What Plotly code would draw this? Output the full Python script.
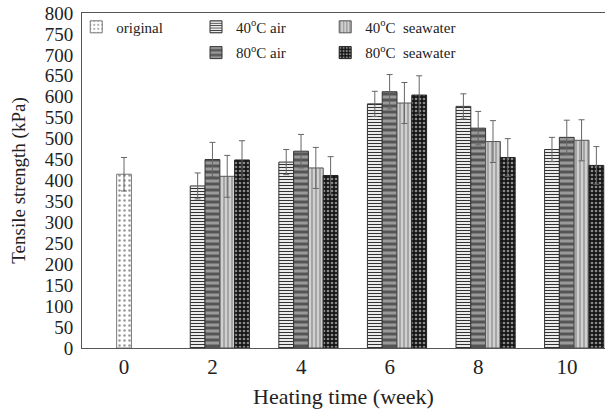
import plotly.graph_objects as go

weeks = ["0", "2", "4", "6", "8", "10"]
treated_weeks = ["2", "4", "6", "8", "10"]

original_val = [415]
original_err = [40]

air40 = [387, 444, 583, 577, 474]
air40_err = [31, 30, 30, 30, 29]
air80 = [450, 470, 612, 525, 503]
air80_err = [41, 40, 41, 40, 41]
sea40 = [410, 430, 585, 493, 496]
sea40_err = [50, 49, 49, 50, 49]
sea80 = [449, 412, 604, 455, 436]
sea80_err = [46, 45, 46, 45, 45]

FONT = "Liberation Serif"
W = 0.167
pos = {w: i for i, w in enumerate(weeks)}

fig = go.Figure()

def add(name, xs, y, err, offset, pattern, line_color, legend):
    fig.add_trace(go.Bar(
        name=name, x=[pos[w] for w in xs], y=y, offset=offset, width=W,
        marker=dict(pattern=pattern, line=dict(color=line_color, width=1)),
        error_y=dict(type="data", array=err, visible=True, color="#666666",
                     thickness=1, width=3),
        legend=legend, showlegend=True,
    ))

add("original", ["0"], original_val, original_err, -0.083,
    dict(shape=".", bgcolor="white", fgcolor="#999999", size=5, solidity=0.2, fillmode="replace"),
    "#777777", "legend")
add("40<sup>o</sup>C air", treated_weeks, air40, air40_err, -0.252,
    dict(shape="-", bgcolor="white", fgcolor="#333333", size=3, solidity=0.4, fillmode="replace"),
    "#333333", "legend2")
add("80<sup>o</sup>C air", treated_weeks, air80, air80_err, -0.085,
    dict(shape="-", bgcolor="#9a9a9a", fgcolor="#555555", size=6, solidity=0.5, fillmode="replace"),
    "#333333", "legend3")
add("40<sup>o</sup>C  seawater", treated_weeks, sea40, sea40_err, 0.082,
    dict(shape="|", bgcolor="#d0d0d0", fgcolor="#9a9a9a", size=4, solidity=0.4, fillmode="replace"),
    "#555555", "legend4")
add("80<sup>o</sup>C  seawater", treated_weeks, sea80, sea80_err, 0.249,
    dict(shape=".", bgcolor="#151515", fgcolor="#8a8a8a", size=4, solidity=0.35, fillmode="replace"),
    "#222222", "legend5")

def leg(x, y):
    return dict(x=x, y=y, xanchor="left", yanchor="middle", bgcolor="rgba(0,0,0,0)",
                font=dict(family=FONT, size=15, color="#222222"),
                itemwidth=30)

fig.update_layout(
    width=605, height=409,
    margin=dict(l=82, r=0, t=13, b=61, autoexpand=False),
    paper_bgcolor="white", plot_bgcolor="white",
    barmode="overlay", showlegend=True,
    font=dict(family=FONT, color="#222222"),
    legend=leg(-0.011, 0.958),
    legend2=leg(0.218, 0.958),
    legend3=leg(0.218, 0.881),
    legend4=leg(0.465, 0.958),
    legend5=leg(0.465, 0.881),
    xaxis=dict(
        tickmode="array", tickvals=list(range(len(weeks))), ticktext=weeks,
        range=[-0.474, 5.43], showline=True, linecolor="#555555", linewidth=1,
        mirror=True, ticks="", showgrid=False, zeroline=False,
        tickfont=dict(family=FONT, size=21, color="#222222"),
        title=dict(text="Heating time (week)", font=dict(family=FONT, size=22, color="#222222"),
                   standoff=12),
    ),
    yaxis=dict(
        range=[0, 800], dtick=50, showline=True, linecolor="#555555", linewidth=1,
        ticks="outside", ticklen=4, tickcolor="rgba(0,0,0,0)",
        showgrid=False, zeroline=False, ticklabeloverflow="allow",
        tickfont=dict(family=FONT, size=19, color="#222222"),
        title=dict(text="Tensile strength (kPa)", font=dict(family=FONT, size=19, color="#222222"),
                   standoff=14),
    ),
)

fig.write_html("out.html", config={"displayModeBar": False},
               post_script="document.body.style.margin='0';document.body.style.overflow='hidden';")
